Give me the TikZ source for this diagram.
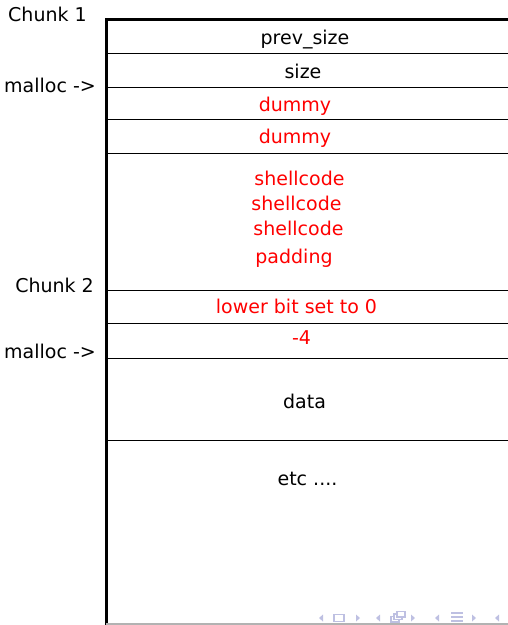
\documentclass[tikz,border=0pt]{standalone}
\usepackage{fontspec}
\setmainfont{DejaVu Sans}
\usetikzlibrary{positioning}
\definecolor{navgray}{RGB}{190,192,226}

\begin{document}
\begin{tikzpicture}[x = 1pt, y = -1pt, cell/.style = {font = \fontsize{19}{22}\selectfont, inner sep = 0pt, anchor = base}, hot/.style = {cell, text = red}, side/.style = {cell, anchor = base east}, row/.style = {line width = 0.9pt}, nav/.style = {fill = navgray, draw = none}]
  \useasboundingbox (0,0) rectangle (508,625);

  % frame
  \coordinate (corner) at (106,19);
  \draw [line width = 3pt] (106,625) -- (corner) -- (508,19);
  \foreach \y in {53, 87, 119, 153, 290, 323, 358, 440}
    \draw [row] (106,\y) -- (508,\y);
  \draw [gray!60, line width = 1.2pt] (106,624) -- (508,624);

  % labels
  \node [cell, anchor = base west] (chunkone) at (8,21) {Chunk 1};
  \node [side] (mallocone) at (96,92) {malloc ->};
  \node [side] (chunktwo) at (94,292) {Chunk 2};
  \node [side] (malloctwo) at (96,358) {malloc ->};

  % cells
  \node [cell] (prevsize) at (305,44) {prev\_size};
  \node [cell] (size) at (303,78) {size};
  \node [hot] (dummyone) at (295,111) {dummy};
  \node [hot] (dummytwo) at (295,143) {dummy};
  \node [hot] (shellone) at (299.5,185) {shellcode};
  \node [hot] (shelltwo) at (296.5,210.5) {shellcode};
  \node [hot] (shellthree) at (298.5,235) {shellcode};
  \node [hot] (padding) at (294,263) {padding};
  \node [hot] (lowerbit) at (296.5,313) {lower bit set to 0};
  \node [hot] (minusfour) at (301.5,344) {-4};
  \node [cell] (data) at (304.5,408) {data};
  \node [cell] (etc) at (307.5,485) {etc ....};

  % navigation symbols
  \fill [nav] (323,614.5) -- (319,618) -- (323,621.5) -- cycle;
  \draw [navgray, line width = 1.2pt] (334,614.5) rectangle (344,621.5);
  \fill [nav] (356,614.5) -- (360,618) -- (356,621.5) -- cycle;
  \fill [nav] (380,614.5) -- (376,618) -- (380,621.5) -- cycle;
  \draw [navgray, line width = 1.2pt] (391,616.5) rectangle (399,622);
  \draw [navgray, line width = 1.2pt, fill = white] (394,614) rectangle (402,619.5);
  \draw [navgray, line width = 1.2pt, fill = white] (397,611.5) rectangle (405,617);
  \fill [nav] (411,614.5) -- (415,618) -- (411,621.5) -- cycle;
  \fill [nav] (439,614.5) -- (435,618) -- (439,621.5) -- cycle;
  \foreach \y in {613, 617, 621}
    \draw [navgray, line width = 1.4pt] (451,\y) -- (463,\y);
  \fill [nav] (472,614.5) -- (476,618) -- (472,621.5) -- cycle;
  \fill [nav] (499,614.5) -- (495,618) -- (499,621.5) -- cycle;
\end{tikzpicture}
\end{document}
